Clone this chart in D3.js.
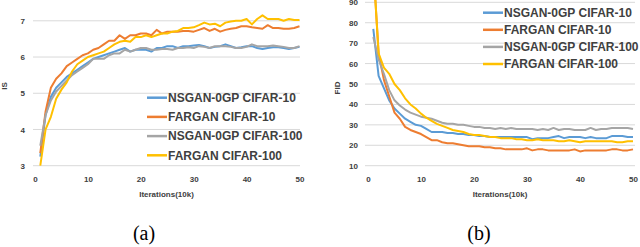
<!DOCTYPE html>
<html><head><meta charset="utf-8">
<script src="https://cdn.jsdelivr.net/npm/d3@7"></script>
<style>body{margin:0;background:#fff}svg{display:block}</style>
</head><body>
<svg id="c" width="640" height="247"></svg>
<script>
const iterations = d3.range(1, 51);
const seriesNames = ["NSGAN-0GP CIFAR-10", "FARGAN CIFAR-10", "NSGAN-0GP CIFAR-100", "FARGAN CIFAR-100"];
const seriesColors = ["#5B9BD5", "#ED7D31", "#A5A5A5", "#FFC000"];

const isNsgan10 = [3.25,4.4,4.9,5.15,5.3,5.45,5.55,5.65,5.75,5.85,5.95,6.0,6.05,6.1,6.15,6.2,6.25,6.15,6.2,6.2,6.2,6.15,6.25,6.25,6.3,6.3,6.25,6.3,6.3,6.32,6.33,6.3,6.25,6.28,6.3,6.35,6.3,6.25,6.27,6.3,6.3,6.25,6.22,6.25,6.27,6.27,6.25,6.22,6.25,6.28];
const isFargan10 = [3.35,4.5,5.15,5.4,5.55,5.75,5.85,5.95,6.05,6.1,6.2,6.25,6.35,6.45,6.45,6.6,6.5,6.6,6.6,6.65,6.65,6.6,6.75,6.65,6.7,6.7,6.7,6.72,6.72,6.7,6.75,6.8,6.72,6.78,6.7,6.75,6.78,6.8,6.85,6.85,6.82,6.8,6.78,6.88,6.8,6.8,6.78,6.78,6.8,6.85];
const isNsgan100 = [3.55,4.4,4.8,5.05,5.2,5.35,5.5,5.6,5.7,5.8,5.95,5.95,5.95,6.05,6.1,6.1,6.2,6.15,6.2,6.25,6.25,6.2,6.2,6.22,6.22,6.2,6.25,6.25,6.27,6.25,6.3,6.28,6.25,6.3,6.3,6.3,6.28,6.25,6.25,6.28,6.35,6.3,6.3,6.3,6.32,6.3,6.28,6.25,6.25,6.3];
const isFargan100 = [3.0,4.0,4.35,4.85,5.1,5.3,5.6,5.8,5.9,6.0,6.05,6.1,6.15,6.25,6.35,6.42,6.45,6.42,6.55,6.55,6.6,6.55,6.6,6.65,6.65,6.7,6.72,6.8,6.8,6.82,6.88,6.95,6.9,6.92,6.85,6.95,6.98,7.0,7.0,7.05,6.9,7.05,7.15,7.05,7.05,7.05,7.0,7.05,7.02,7.02];

const fidNsgan10 = [77,54,48,42,38,35.5,33,31.5,30,29.5,28,26.5,26.5,26.5,26,26,25.5,25.5,25,25,24.5,24.5,24,24,24,24,24,24,24,24,23,23.5,23.5,23.5,24,24.5,23.5,24,24,24,23.5,24,23.5,23.5,23.5,24.5,24.5,24.5,24,24];
const fidFargan10 = [108,65,52,44,36,33,29,27.5,26.5,25.5,24,22.5,22.5,21.5,21,21,20.5,20,19.5,19.5,19.5,19,19,18.5,18.5,18,18,18,18,18.5,17.5,18,18,17.5,17.5,17.5,17.5,17.5,18,17,17.5,17.5,17.5,17.5,17.5,18,18,17.5,17.5,18];
const fidNsgan100 = [73,62,55,47,42,39.5,37.5,36,35,34,33.5,33,32,31,30.5,30.5,30,30,29.5,29,29,28.5,28.5,28,28.5,28,28.5,28,28,28,28,27.5,28,27.5,28.5,27.5,28,28,27.5,27.5,27.5,28.5,27.5,28,28,28.5,28.5,28.5,28.5,28];
const fidFargan100 = [108,65,58,55,50,47,43,40,38,35.5,33.5,32,30.5,29.5,28.5,27.5,27,26.5,25.5,25,25,24.5,24,24,23.5,23.5,23.5,23,23,22.5,22.5,23,22.5,22.5,22.5,22,22,22.5,22,21.5,22,22,22,22,22,22,21.5,21.5,22,22];

const xTicks = [0,10,20,30,40,50];
const isTicks = [3,4,5,6,7];
const fidTicks = [10,20,30,40,50,60,70,80,90];

const svg = d3.select("#c");
const tickFont = "Liberation Sans, Arial, sans-serif";

function panel(opt) {
  const g = svg.append("g");
  const x = d3.scaleLinear().domain([0,50]).range(opt.xr);
  const y = d3.scaleLinear().domain(opt.yd).range(opt.yr);
  g.selectAll(".grid").data(opt.yTicks).join("line")
    .attr("x1", opt.gx[0]).attr("x2", opt.gx[1])
    .attr("y1", d => y(d)).attr("y2", d => y(d))
    .attr("stroke", "#d9d9d9").attr("stroke-width", 1);
  const ya = d3.axisLeft(y).tickValues(opt.yTicks).tickFormat(d3.format("d")).tickSize(0).tickPadding(0);
  const yg = g.append("g").attr("transform", `translate(${opt.yLabX},0)`).call(ya);
  yg.select(".domain").remove();
  yg.selectAll("text").attr("font-family", tickFont).attr("font-weight", "bold").attr("font-size", 8).attr("fill", "#404040");
  const xa = d3.axisBottom(x).tickValues(xTicks).tickFormat(d3.format("d")).tickSize(0).tickPadding(0);
  const xg = g.append("g").attr("transform", `translate(0,${opt.xLabY})`).call(xa);
  xg.select(".domain").remove();
  xg.selectAll("text").attr("font-family", tickFont).attr("font-weight", "bold").attr("font-size", 8).attr("fill", "#404040");
  const line = d3.line().x((d,i) => x(iterations[i])).y(d => y(d));
  opt.series.forEach((s, k) => {
    g.append("path").datum(s).attr("d", line).attr("fill", "none")
      .attr("stroke", seriesColors[k]).attr("stroke-width", 2).attr("stroke-linejoin", "round");
  });
  g.append("text").attr("x", opt.xTitle[0]).attr("y", opt.xTitle[1]).attr("text-anchor", "middle")
    .attr("font-family", tickFont).attr("font-weight", "bold").attr("font-size", 8).attr("fill", "#404040")
    .text("Iterations(10k)");
  g.append("text").attr("transform", `translate(${opt.yTitle[0]},${opt.yTitle[1]}) rotate(-90)`)
    .attr("text-anchor", "middle").attr("font-family", tickFont).attr("font-weight", "bold")
    .attr("font-size", 8).attr("fill", "#404040").text(opt.yTitleText);
  seriesNames.forEach((n, k) => {
    const ly = opt.leg[1] + k * opt.leg[2];
    g.append("line").attr("x1", opt.leg[0]).attr("x2", opt.leg[0] + 20).attr("y1", ly).attr("y2", ly)
      .attr("stroke", seriesColors[k]).attr("stroke-width", 2.5);
    g.append("text").attr("x", opt.leg[0] + 21).attr("y", ly).attr("dy", "0.36em")
      .attr("font-family", tickFont).attr("font-weight", "bold").attr("font-size", 12).attr("fill", "#404040")
      .text(n);
  });
  g.append("text").attr("x", opt.cap[0]).attr("y", opt.cap[1]).attr("text-anchor", "middle")
    .attr("font-family", "Liberation Serif, Times New Roman, serif").attr("font-size", 20).attr("fill", "#000")
    .text(opt.capText);
}

panel({
  xr: [35, 299.5], yd: [3,7], yr: [165.7, 20.8], gx: [33, 300], yTicks: isTicks,
  yLabX: 25, xLabY: 176, series: [isNsgan10, isFargan10, isNsgan100, isFargan100],
  xTitle: [166.5, 197], yTitle: [7, 86], yTitleText: "IS",
  leg: [147, 97.7, 19.2], cap: [144, 240], capText: "(a)"
});
panel({
  xr: [368, 633], yd: [10,90], yr: [165.7, 2.3], gx: [365, 635], yTicks: fidTicks,
  yLabX: 358, xLabY: 176, series: [fidNsgan10, fidFargan10, fidNsgan100, fidFargan100],
  xTitle: [500, 197], yTitle: [340, 88], yTitleText: "FID",
  leg: [483, 12.7, 17.1], cap: [479, 240], capText: "(b)"
});
</script>
</body></html>
